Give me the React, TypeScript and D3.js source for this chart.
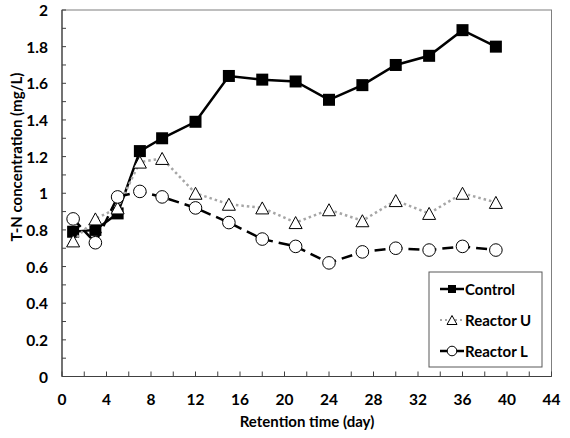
import React from "react";
import * as d3 from "d3";

const days = [1, 3, 5, 7, 9, 12, 15, 18, 21, 24, 27, 30, 33, 36, 39];
const control = [0.79, 0.8, 0.89, 1.23, 1.3, 1.39, 1.64, 1.62, 1.61, 1.51, 1.59, 1.7, 1.75, 1.89, 1.8];
const reactorU = [0.74, 0.86, 0.92, 1.17, 1.19, 1.0, 0.94, 0.92, 0.84, 0.91, 0.85, 0.96, 0.89, 1.0, 0.95];
const reactorL = [0.86, 0.73, 0.98, 1.01, 0.98, 0.92, 0.84, 0.75, 0.71, 0.62, 0.68, 0.7, 0.69, 0.71, 0.69];
const xTickLabels = [0, 4, 8, 12, 16, 20, 24, 28, 32, 36, 40, 44];
const yTickLabels = [0, 0.2, 0.4, 0.6, 0.8, 1, 1.2, 1.4, 1.6, 1.8, 2];
const xMinor = d3.range(0, 45, 2);
const yMinor = d3.range(0, 21).map((i) => i / 10);
const seriesNames = ["Control", "Reactor U", "Reactor L"];

const W = 570;
const H = 438;
const L = 62;
const T = 10;
const R = 551.5;
const B = 376.5;
const FONT = "Lato, 'Open Sans', sans-serif";

const x = d3.scaleLinear().domain([0, 44]).range([L, R]);
const y = d3.scaleLinear().domain([0, 2]).range([B, T]);

const line = d3
  .line<[number, number]>()
  .x((d) => x(d[0]))
  .y((d) => y(d[1]));

const pts = (vals: number[]) => days.map((d, i) => [d, vals[i]] as [number, number]);

const Square = ({ cx, cy, s }: { cx: number; cy: number; s: number }) => (
  <rect x={cx - s / 2} y={cy - s / 2} width={s} height={s} fill="#000" />
);
const Tri = ({ cx, cy, w, h }: { cx: number; cy: number; w: number; h: number }) => (
  <path
    d={`M${cx},${cy - h / 2}L${cx + w / 2},${cy + h / 2}L${cx - w / 2},${cy + h / 2}Z`}
    fill="#fff"
    stroke="#000"
    strokeWidth={1}
  />
);
const Circ = ({ cx, cy, r }: { cx: number; cy: number; r: number }) => (
  <circle cx={cx} cy={cy} r={r} fill="#fff" stroke="#000" strokeWidth={1} />
);

export default function App() {
  const legX0 = 440;
  const legX1 = 464;
  const legY = [289, 320, 351];
  return (
    <svg
      width={W}
      height={H}
      style={{ position: "absolute", left: 0, top: 0, background: "#fff" }}
      fontFamily={FONT}
    >
      <rect x={0} y={0} width={W} height={H} fill="#fff" />
      {/* plot border */}
      <rect x={L} y={T} width={R - L} height={B - T} fill="none" stroke="#7f7f7f" strokeWidth={1} />
      {/* axes */}
      <line x1={L} x2={L} y1={T} y2={B} stroke="#404040" strokeWidth={1.2} />
      <line x1={L} x2={R} y1={B} y2={B} stroke="#404040" strokeWidth={1.2} />
      {/* ticks */}
      {yMinor.map((v) => (
        <line key={"yt" + v} x1={L} x2={L + 4} y1={y(v)} y2={y(v)} stroke="#404040" strokeWidth={1} />
      ))}
      {xMinor.map((v) => (
        <line key={"xt" + v} x1={x(v)} x2={x(v)} y1={B} y2={B - 5} stroke="#404040" strokeWidth={1} />
      ))}
      {/* tick labels */}
      {yTickLabels.map((v) => (
        <text
          key={"yl" + v}
          x={48}
          y={y(v)}
          textAnchor="end"
          dominantBaseline="central"
          fontSize={15.5}
          fontWeight="bold"
          fill="#000"
        >
          {String(v)}
        </text>
      ))}
      {xTickLabels.map((v) => (
        <text
          key={"xl" + v}
          x={x(v)}
          y={399}
          textAnchor="middle"
          dominantBaseline="central"
          fontSize={15.5}
          fontWeight="bold"
          fill="#000"
        >
          {String(v)}
        </text>
      ))}
      {/* axis titles */}
      <text x={307} y={427} textAnchor="middle" fontSize={15} fontWeight="bold" fill="#000">
        Retention time (day)
      </text>
      <text
        transform={`translate(16,157) rotate(-90)`}
        textAnchor="middle"
        dominantBaseline="central"
        fontSize={15}
        fontWeight="bold"
        fill="#000"
      >
        T-N concentration (mg/L)
      </text>

      {/* Control */}
      <path d={line(pts(control)) || ""} fill="none" stroke="#000" strokeWidth={2.5} />
      {days.map((d, i) => (
        <Square key={"c" + i} cx={x(d)} cy={y(control[i])} s={12} />
      ))}
      {/* Reactor U */}
      <path
        d={line(pts(reactorU)) || ""}
        fill="none"
        stroke="#a6a6a6"
        strokeWidth={2.5}
        strokeDasharray="2.5,3"
      />
      {days.map((d, i) => (
        <Tri key={"u" + i} cx={x(d)} cy={y(reactorU[i])} w={13} h={12} />
      ))}
      {/* Reactor L */}
      <path
        d={line(pts(reactorL)) || ""}
        fill="none"
        stroke="#000"
        strokeWidth={2.5}
        strokeDasharray="11,6"
      />
      {days.map((d, i) => (
        <Circ key={"l" + i} cx={x(d)} cy={y(reactorL[i])} r={6.3} />
      ))}

      {/* legend */}
      <rect x={429} y={272} width={113} height={95} fill="#fff" stroke="#595959" strokeWidth={1} />
      <line x1={legX0} x2={legX1} y1={legY[0]} y2={legY[0]} stroke="#000" strokeWidth={2.5} />
      <Square cx={(legX0 + legX1) / 2} cy={legY[0]} s={8} />
      <line
        x1={legX0}
        x2={legX1}
        y1={legY[1]}
        y2={legY[1]}
        stroke="#a6a6a6"
        strokeWidth={2}
        strokeDasharray="2,3"
      />
      <Tri cx={(legX0 + legX1) / 2} cy={legY[1]} w={10} h={9} />
      <line x1={legX0} x2={legX1} y1={legY[2]} y2={legY[2]} stroke="#000" strokeWidth={2.5} />
      <Circ cx={(legX0 + legX1) / 2} cy={legY[2]} r={4.8} />
      {seriesNames.map((n, i) => (
        <text
          key={n}
          x={465}
          y={legY[i]}
          dominantBaseline="central"
          fontSize={15}
          fontWeight="bold"
          fill="#000"
        >
          {n}
        </text>
      ))}
    </svg>
  );
}
